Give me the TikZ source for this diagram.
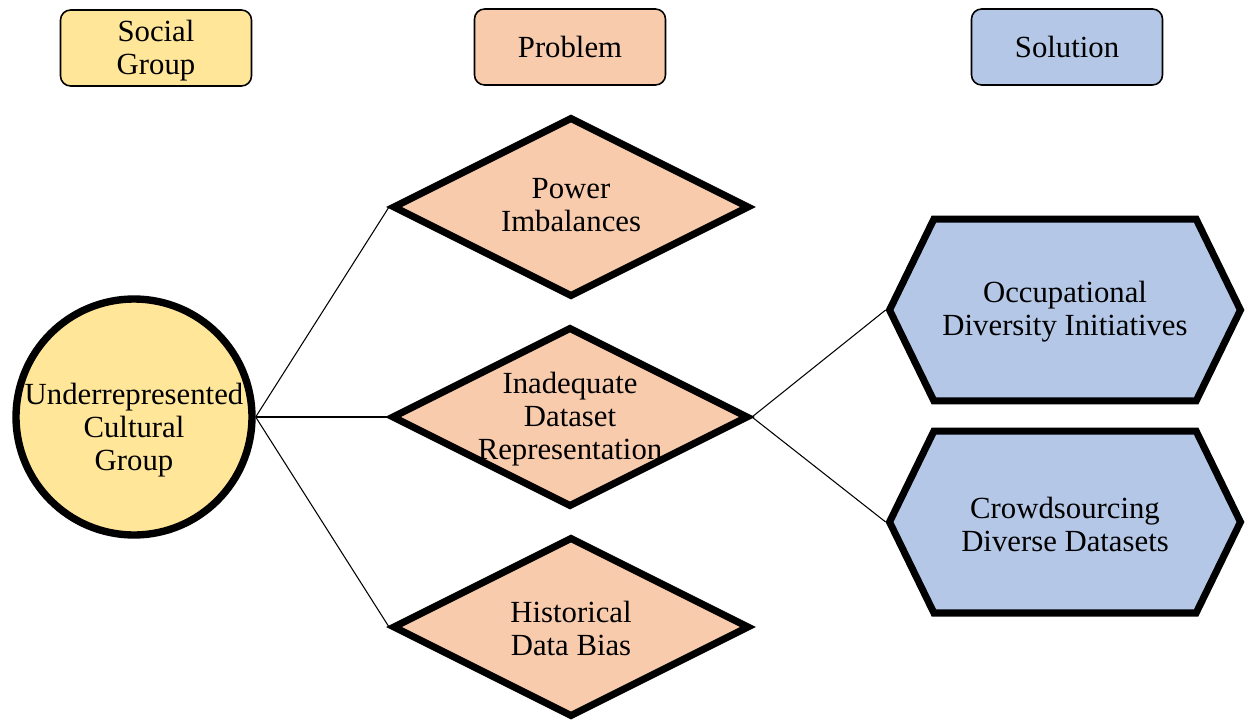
\documentclass[tikz,border=0pt]{standalone}
\usepackage{fontspec}
\setmainfont{Liberation Serif}
\usepackage{tikz}
\usetikzlibrary{shapes.geometric,shapes.symbols}
\definecolor{groupyellow}{HTML}{FFE699}
\definecolor{problempeach}{HTML}{F8CBAD}
\definecolor{solutionblue}{HTML}{B4C7E7}

\begin{document}
\begin{tikzpicture}[
    x=0.02cm, y=-0.02cm,
    font=\fontsize{17.5}{18.8}\selectfont,
    header/.style={draw, rectangle, rounded corners=0.2cm, minimum width=3.82cm, minimum height=1.52cm, align=center, line width=0.9pt},
    group/.style={draw, circle, minimum size=4.72cm, line width=4.2pt, fill=groupyellow},
    problem/.style={draw, diamond, minimum width=7.14cm, minimum height=3.6cm, line width=4pt, fill=problempeach},
    solution/.style={draw, signal, signal to=west and east, signal pointer angle=128, minimum width=7.02cm, minimum height=3.64cm, line width=4pt, fill=solutionblue},
    txt/.style={align=center, inner sep=0pt},
    line/.style={draw, line width=0.6pt}
]
    \useasboundingbox (0,0) rectangle (1246,726);

    % Headers
    \node[header, fill=groupyellow] (hgroup) at (156,48) {};
    \node[txt] (hgroupt) at (156,51) {Social\\Group};
    \node[header, fill=problempeach] (hproblem) at (570,47) {Problem};
    \node[header, fill=solutionblue] (hsolution) at (1067,47) {Solution};

    % Shapes
    \node[group] (circ) at (134,417) {};
    \node[problem] (power) at (571,207) {};
    \node[problem] (dataset) at (570,417) {};
    \node[problem] (hist) at (571,627) {};
    \node[solution] (occup) at (1065,310) {};
    \node[solution] (crowd) at (1065,522) {};

    % Texts
    \node[txt] (circt) at (134,430) {Underrepresented\\Cultural\\Group};
    \node[txt] (powert) at (571,205) {Power\\Imbalances};
    \node[txt] (datasett) at (570,419) {Inadequate\\Dataset\\Representation};
    \node[txt] (histt) at (571,628) {Historical\\Data Bias};
    \node[txt] (occupt) at (1065,312) {Occupational\\Diversity Initiatives};
    \node[txt] (crowdt) at (1065,524) {Crowdsourcing\\Diverse Datasets};

    % Connections
    \draw[line] (circ.east) -- (power.west);
    \draw[line] (circ.east) -- (dataset.west);
    \draw[line] (circ.east) -- (hist.west);
    \draw[line] (dataset.east) -- (occup.west);
    \draw[line] (dataset.east) -- (crowd.west);
\end{tikzpicture}
\end{document}
